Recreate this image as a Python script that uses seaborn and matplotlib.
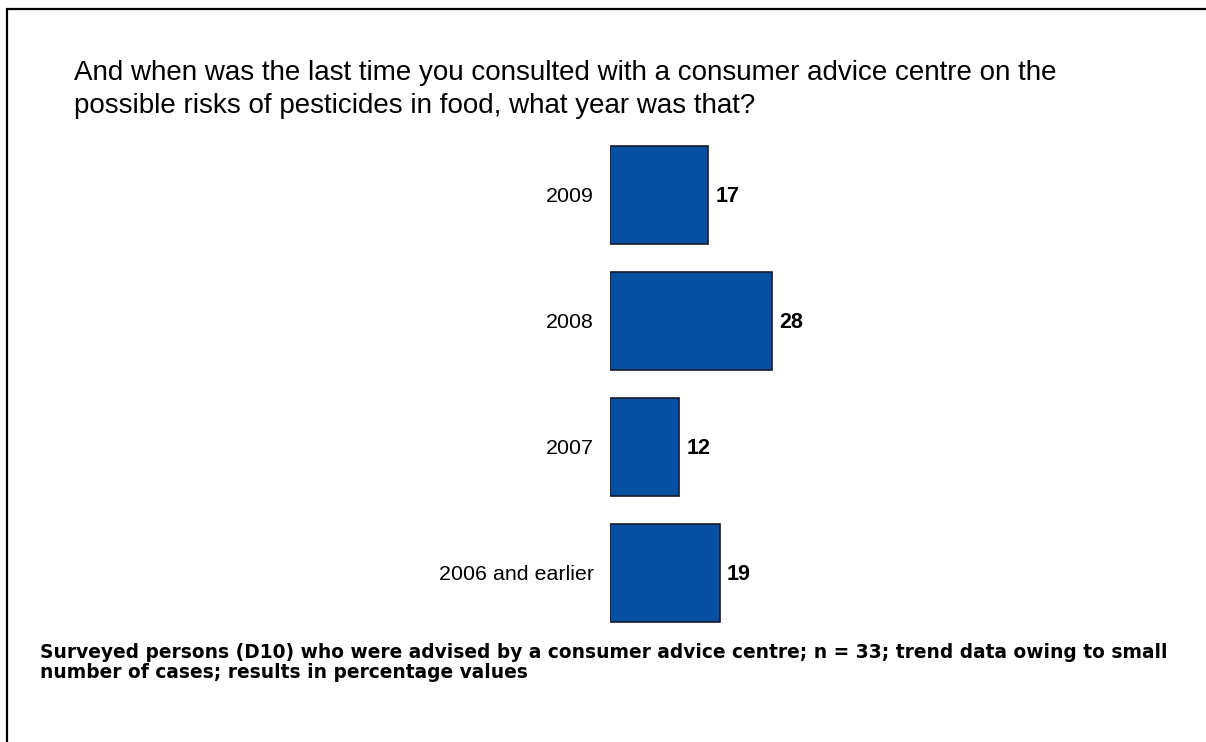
import matplotlib
matplotlib.use("Agg")
import matplotlib.pyplot as plt
import seaborn as sns
import pandas as pd

# Data
categories = ["2009", "2008", "2007", "2006 and earlier"]
values = [17, 28, 12, 19]

title = ("And when was the last time you consulted with a consumer advice centre on the\n"
         "possible risks of pesticides in food, what year was that?")
footnote = ("Surveyed persons (D10) who were advised by a consumer advice centre; n = 33; trend data owing to small\n"
            "number of cases; results in percentage values")

df = pd.DataFrame({"category": categories, "value": values})

sns.set_style("white")
plt.rcParams['font.family'] = ['Liberation Sans', 'DejaVu Sans']
plt.rcParams['text.color'] = 'black'
plt.rcParams['ytick.color'] = 'black'

W, H = 1206, 742
fig = plt.figure(figsize=(W / 100, H / 100), dpi=100)

# axes placed so x=0 sits at pixel 610
ax = fig.add_axes([610 / W, 1 - 636 / H, 231.6 / W, 504 / H])

sns.barplot(
    data=df,
    x="value",
    y="category",
    orient="h",
    color="#064FA2",
    saturation=1,
    width=0.77,
    edgecolor="#1a1a2a",
    linewidth=1.2,
    ax=ax
)

ax.set_xlim(0, 40)
ax.set_ylim(3.5, -0.5)
ax.set_xlabel("")
ax.set_ylabel("")
ax.set_xticks([])
ax.tick_params(axis="y", length=0, pad=11.5, labelsize=15.4)
for s in ax.spines.values():
    s.set_visible(False)

# value labels
for i, v in enumerate(values):
    ax.text(v + 1.2, i + 0.01, str(v), va="center", ha="left",
            fontsize=15.5, fontweight="bold")

# title
fig.text(74 / W, 1 - 60 / H, title, ha="left", va="top",
         fontsize=20, linespacing=1.34)

# footnote
fig.text(40 / W, 1 - 643 / H, footnote, ha="left", va="top",
         fontsize=13.4, fontweight="bold", family="DejaVu Sans",
         linespacing=1.08)

# frame (left and top edges only visible)
frame = plt.Rectangle((7 / W, -0.1), 1.5, 1 - 9 / H + 0.1,
                      transform=fig.transFigure, fill=False,
                      edgecolor="black", linewidth=1.6)
fig.patches.append(frame)

plt.savefig("out.png", dpi=100)
plt.close()
